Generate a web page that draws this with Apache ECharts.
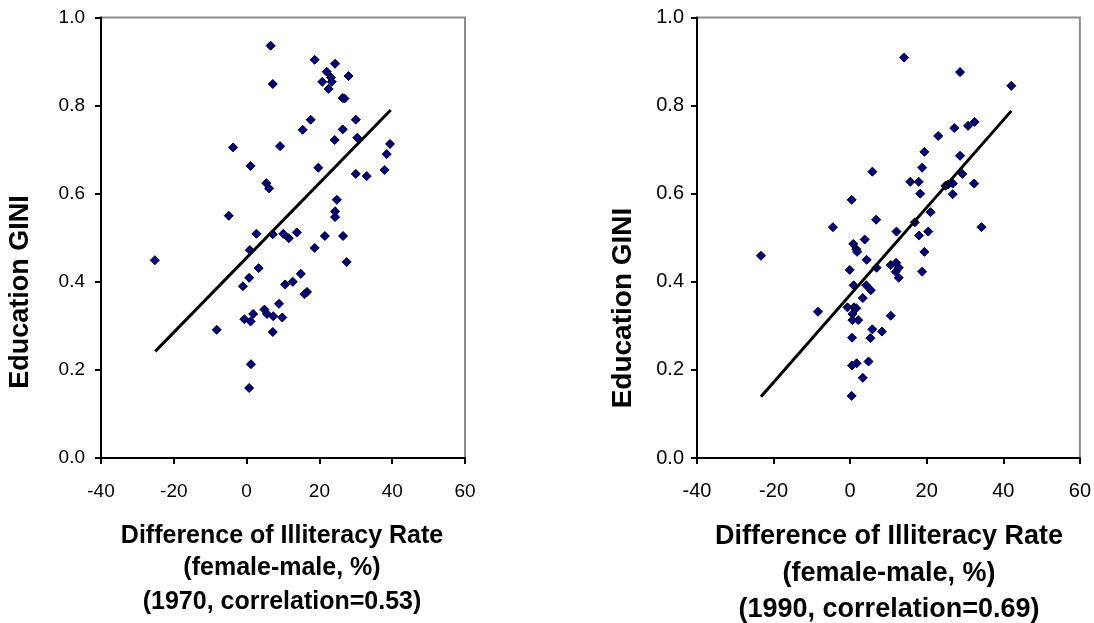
<!DOCTYPE html>
<html>
<head>
<meta charset="utf-8">
<script src="https://cdn.jsdelivr.net/npm/echarts@6/dist/echarts.min.js"></script>
<style>
  html, body { margin: 0; padding: 0; background: #fff; }
  #chart { width: 1094px; height: 623px; }
</style>
</head>
<body>
<div id="chart"></div>
<script>
// ---- Data ----
// 1970: difference of illiteracy rate (female-male, %) vs Education GINI
const x1970 = [6.6,18.7,24.3,22.0,23.2,20.8,23.4,22.5,28.0,7.2,26.4,26.9,17.6,15.4,30.0,26.4,24.2,30.4,39.4,38.5,37.9,33.0,30.0,-3.7,9.2,1.1,5.4,6.2,19.7,24.8,24.3,24.3,-4.9,-25.2,2.7,7.2,10.1,11.6,13.8,21.5,26.5,18.7,27.5,0.9,3.3,0.7,-1.0,14.9,12.7,10.6,16.6,15.9,8.9,4.9,5.6,7.3,9.8,1.8,-0.6,1.1,-8.2,7.2,1.2,0.7];
const y1970 = [0.936,0.904,0.895,0.877,0.864,0.854,0.854,0.838,0.867,0.849,0.817,0.816,0.768,0.745,0.768,0.746,0.722,0.727,0.713,0.690,0.654,0.640,0.645,0.705,0.708,0.663,0.624,0.612,0.659,0.586,0.560,0.547,0.550,0.449,0.509,0.508,0.509,0.499,0.512,0.504,0.504,0.477,0.445,0.472,0.431,0.409,0.390,0.418,0.400,0.394,0.377,0.372,0.350,0.337,0.327,0.322,0.319,0.327,0.315,0.310,0.291,0.286,0.213,0.159];
// 1990
const x1990 = [14.1,28.7,42.1,32.5,30.8,27.2,23.0,19.4,28.7,18.8,5.8,29.3,15.7,17.9,24.9,25.6,26.8,32.4,26.8,18.3,21.0,0.4,6.8,16.9,-4.5,34.3,12.1,20.4,18.0,3.8,0.8,1.6,1.8,-23.3,19.4,4.3,10.6,12.0,12.7,11.9,12.7,18.8,6.9,-0.1,0.9,4.2,5.4,3.3,-0.7,1.0,1.6,0.6,0.6,2.1,-8.4,10.6,5.8,8.3,5.3,0.5,4.8,1.7,0.5,3.3,0.4];
const y1990 = [0.909,0.876,0.845,0.763,0.754,0.749,0.731,0.695,0.686,0.659,0.650,0.645,0.627,0.627,0.618,0.621,0.623,0.623,0.599,0.600,0.558,0.586,0.541,0.535,0.524,0.524,0.514,0.514,0.505,0.496,0.486,0.474,0.468,0.459,0.468,0.450,0.438,0.443,0.432,0.423,0.409,0.423,0.432,0.427,0.392,0.392,0.381,0.363,0.342,0.342,0.340,0.327,0.313,0.313,0.332,0.323,0.292,0.287,0.272,0.273,0.219,0.215,0.210,0.182,0.141];
// Fitted trend lines (end points as drawn)
const trend1970X = [-25.1, 39.6];
const trend1970Y = [0.242, 0.790];
const trend1990X = [-23.3, 42.1];
const trend1990Y = [0.139, 0.788];
// Axis ranges and titles
const xRange = [-40, 60, 20];
const yRange = [0, 1, 0.2];
const yTitle = 'Education GINI';
const xTitle1970 = ['Difference of Illiteracy Rate', '(female-male, %)', '(1970, correlation=0.53)'];
const xTitle1990 = ['Difference of Illiteracy Rate', '(female-male, %)', '(1990, correlation=0.69)'];

function pairs(xs, ys) { return xs.map((v, i) => [v, ys[i]]); }

const FONT = "'Liberation Sans', Arial, sans-serif";

function xAxisCfg(idx, fs, margin) {
  return {
    type: 'value', gridIndex: idx, min: xRange[0], max: xRange[1], interval: xRange[2],
    splitLine: { show: false },
    axisLine: { show: true, onZero: false, lineStyle: { color: '#000', width: 2 } },
    axisTick: { show: true, length: 6, lineStyle: { color: '#000', width: 2 } },
    axisLabel: { color: '#000', fontSize: fs, fontFamily: FONT, margin: margin,
                 formatter: v => String(v) }
  };
}
function yAxisCfg(idx, fs, margin) {
  return {
    type: 'value', gridIndex: idx, min: yRange[0], max: yRange[1], interval: yRange[2],
    splitLine: { show: false },
    axisLine: { show: true, onZero: false, lineStyle: { color: '#000', width: 2 } },
    axisTick: { show: true, length: 6, lineStyle: { color: '#000', width: 2 } },
    axisLabel: { color: '#000', fontSize: fs, fontFamily: FONT, margin: margin,
                 formatter: v => v.toFixed(1) }
  };
}
function scatter(idx, xs, ys) {
  return {
    type: 'scatter', xAxisIndex: idx, yAxisIndex: idx, data: pairs(xs, ys),
    symbol: 'diamond', symbolSize: 9, z: 3,
    itemStyle: { color: '#000080', borderColor: '#000', borderWidth: 1, opacity: 1 }
  };
}
function trend(idx, xs, ys) {
  return {
    type: 'line', xAxisIndex: idx, yAxisIndex: idx, data: pairs(xs, ys),
    showSymbol: false, symbol: 'none', z: 4, silent: true,
    lineStyle: { color: '#000', width: 3 }
  };
}
function titleLines(lines, cx, ys, fs) {
  return lines.map((t, i) => ({
    type: 'text', x: cx, y: ys[i],
    style: { text: t, font: 'bold ' + fs + 'px ' + FONT, fill: '#000',
             textAlign: 'center', textVerticalAlign: 'middle' }
  }));
}

const chart = echarts.init(document.getElementById('chart'), null, { renderer: 'canvas' });
const option = {
  animation: false,
  backgroundColor: '#fff',
  grid: [
    { left: 101, right: 629, top: 17.5, bottom: 165, show: true, borderColor: '#8c8c8c', borderWidth: 2, backgroundColor: 'transparent' },
    { left: 697, right: 13, top: 17.5, bottom: 165, show: true, borderColor: '#8c8c8c', borderWidth: 2, backgroundColor: 'transparent' }
  ],
  xAxis: [xAxisCfg(0, 19, 24), xAxisCfg(1, 20, 23)],
  yAxis: [yAxisCfg(0, 19, 16), yAxisCfg(1, 20, 13)],
  series: [
    scatter(0, x1970, y1970),
    trend(0, trend1970X, trend1970Y),
    scatter(1, x1990, y1990),
    trend(1, trend1990X, trend1990Y)
  ],
  graphic: [
    { type: 'text', x: 21, y: 292, rotation: Math.PI / 2,
      style: { text: yTitle, font: 'bold 27px ' + FONT, fill: '#000', textAlign: 'center', textVerticalAlign: 'middle' } },
    { type: 'text', x: 623, y: 308, rotation: Math.PI / 2,
      style: { text: yTitle, font: 'bold 28px ' + FONT, fill: '#000', textAlign: 'center', textVerticalAlign: 'middle' } }
  ].concat(titleLines(xTitle1970, 282, [536, 568, 602], 25))
   .concat(titleLines(xTitle1990, 889, [537, 574, 610], 27))
};
chart.setOption(option);
</script>
</body>
</html>
